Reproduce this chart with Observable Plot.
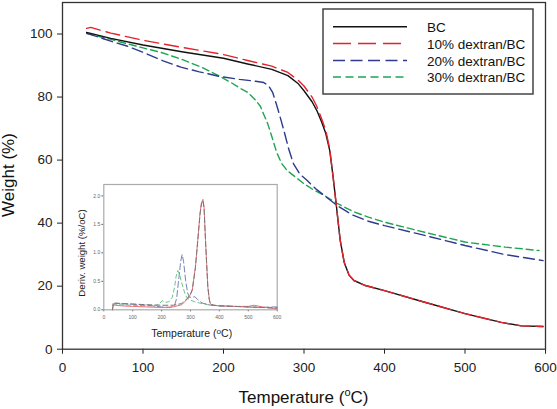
<!DOCTYPE html>
<html><head><meta charset="utf-8">
<script src="https://cdn.jsdelivr.net/npm/d3@7"></script>
<script src="https://cdn.jsdelivr.net/npm/@observablehq/plot@0.6"></script>
<style>
body{margin:0;background:#fff}
#c{position:relative;width:557px;height:409px}
#c svg{position:absolute;left:0;top:0}
</style>
</head><body><div id="c"></div>
<script>
// ---------- Main TGA curves (Temperature °C -> Weight %) ----------
const seriesNames = ["BC", "10% dextran/BC", "20% dextran/BC", "30% dextran/BC"];

const bcT = [30, 60, 100, 150, 200, 230, 260, 280, 293, 300, 310, 316, 322, 327, 332, 336, 340, 345, 350, 356, 362, 375, 400, 450, 500, 545, 570, 597];
const bcW = [100.5, 98.6, 96.5, 94.3, 92.3, 90.5, 88.8, 86.8, 84.2, 82, 78.5, 75.7, 72, 68.5, 63, 55, 46, 34.5, 27.5, 23.5, 21.8, 20.3, 18.6, 14.9, 11.3, 8.5, 7.4, 7.2];

const d10T = [30, 35, 60, 100, 150, 200, 230, 260, 280, 293, 300, 310, 316, 322, 327, 332, 336, 340, 345, 350, 356, 362, 375, 400, 450, 500, 545, 570, 597];
const d10W = [101.8, 102.1, 100.3, 98.0, 95.7, 93.5, 91.6, 89.8, 87.8, 85.3, 83.5, 80, 77, 73, 69.5, 63.5, 55, 46, 34.5, 27.5, 23.5, 21.8, 20.3, 18.6, 14.9, 11.3, 8.5, 7.4, 7.2];

const d20T = [30, 45, 64, 80, 100, 125, 147, 170, 196, 220, 240, 250, 256, 261, 266, 270, 275, 281, 287, 295, 304, 315, 325, 341, 360, 380, 400, 450, 500, 550, 597];
const d20W = [100.2, 99, 97.4, 96.2, 94.2, 91.5, 89.5, 88.0, 86.5, 85.6, 85.0, 84.6, 83.6, 81.5, 77.5, 74, 69.4, 63.5, 58.8, 55.5, 53.5, 50.8, 48.8, 45.6, 42.6, 40.6, 39.2, 36.1, 32.9, 30, 28.1];

const d30T = [30, 60, 100, 122, 150, 175, 196, 210, 222, 230, 240, 246, 250, 255, 260, 266, 272, 279, 290, 300, 312, 325, 341, 360, 380, 400, 450, 500, 550, 592];
const d30W = [100.2, 98.3, 95.6, 94.2, 91.8, 89.2, 86.5, 84.5, 82.6, 81.5, 79, 77, 74.5, 71.5, 67.5, 62.5, 59, 56.7, 54.5, 52.5, 50.5, 48.8, 46.3, 43.8, 41.9, 40.3, 37.1, 34, 32.4, 31.3];

const xTicks = [0, 100, 200, 300, 400, 500, 600];
const yTicks = [0, 20, 40, 60, 80, 100];

// ---------- Inset DTG curves (Temperature °C -> Deriv. weight %/°C) ----------
const iBcT = [30, 33, 40, 60, 100, 150, 200, 240, 270, 289, 300, 306, 317, 325, 333, 338, 343, 347, 352, 356, 360, 365, 369, 380, 400, 450, 500, 550, 600];
const iBcD = [0, 0.11, 0.12, 0.11, 0.1, 0.09, 0.08, 0.08, 0.11, 0.2, 0.28, 0.35, 0.74, 1.2, 1.68, 1.86, 1.92, 1.78, 1.2, 0.8, 0.4, 0.18, 0.1, 0.08, 0.07, 0.06, 0.05, 0.04, 0.03];

const i10T = [30, 33, 40, 60, 100, 150, 200, 240, 270, 289, 300, 306, 317, 325, 333, 338, 343, 347, 352, 356, 360, 365, 369, 380, 400, 450, 500, 520, 550, 580, 600];
const i10D = [0, 0.09, 0.08, 0.07, 0.06, 0.05, 0.04, 0.05, 0.09, 0.19, 0.27, 0.34, 0.75, 1.22, 1.7, 1.88, 1.94, 1.8, 1.22, 0.8, 0.4, 0.18, 0.1, 0.08, 0.07, 0.06, 0.06, 0.08, 0.05, 0.03, 0.01];

const i20T = [30, 40, 100, 150, 200, 230, 245, 252, 260, 266, 271, 276, 283, 290, 296, 305, 315, 325, 340, 370, 400, 450, 500, 550, 575, 600];
const i20D = [0.1, 0.11, 0.1, 0.08, 0.05, 0.04, 0.08, 0.2, 0.57, 0.85, 0.97, 0.85, 0.52, 0.3, 0.22, 0.22, 0.23, 0.18, 0.12, 0.08, 0.07, 0.06, 0.05, 0.04, 0.05, 0.05];

const i30T = [30, 40, 100, 150, 180, 195, 202, 210, 225, 237, 245, 250, 256, 262, 268, 275, 283, 290, 300, 315, 330, 360, 400, 450, 500, 550, 600];
const i30D = [0.08, 0.09, 0.08, 0.07, 0.07, 0.12, 0.16, 0.13, 0.14, 0.22, 0.4, 0.58, 0.69, 0.62, 0.5, 0.38, 0.25, 0.2, 0.17, 0.14, 0.12, 0.09, 0.07, 0.06, 0.05, 0.04, 0.03];

const iXTicks = [0, 100, 200, 300, 400, 500, 600];
const iYTicks = [0, 0.5, 1.0, 1.5, 2.0];

// ---------- helpers ----------
const rows = (T, V) => T.map((t, i) => ({t, v: V[i]}));
const FONT = "'Liberation Sans', Arial, Helvetica, sans-serif";
const colors = ["#111111", "#e3232c", "#2e3a8e", "#1ea551"];
const dashes = [null, "14,6", "11,5", "7,4"];
const mainData = [rows(bcT, bcW), rows(d10T, d10W), rows(d20T, d20W), rows(d30T, d30W)];

const main = Plot.plot({
  width: 557, height: 409,
  marginLeft: 62, marginRight: 12, marginTop: 2, marginBottom: 60.3,
  style: {fontFamily: FONT, fontSize: "13.5px", color: "#222", background: "transparent"},
  x: {domain: [0, 600], ticks: xTicks, tickSize: 5, tickPadding: 8, label: null, tickFormat: d => d},
  y: {domain: [0, 110], ticks: yTicks, tickSize: 5, tickPadding: 5, label: null, tickFormat: d => d},
  marks: [
    Plot.frame({stroke: "#333", strokeWidth: 1.3}),
    ...[3, 2, 0, 1].map(k => Plot.line(mainData[k], {
      x: "t", y: "v", stroke: colors[k], strokeWidth: 1.4,
      strokeDasharray: dashes[k] || undefined
    }))
  ]
});

const inData = [rows(iBcT, iBcD), rows(i10T, i10D), rows(i20T, i20D), rows(i30T, i30D)];
const inColors = ["#777777", "#f07078", "#7a82b8", "#6cc48a"];
const inDash = ["5,3", null, "6,3", "4,3"];

const inset = Plot.plot({
  width: 557, height: 409,
  marginLeft: 103.3, marginRight: 280.3, marginTop: 184, marginBottom: 99.7,
  style: {fontFamily: FONT, fontSize: "5px", color: "#666", background: "transparent"},
  x: {domain: [0, 600], ticks: iXTicks, tickSize: 2, tickPadding: 4, label: null, tickFormat: d => d},
  y: {domain: [0, 2.2], ticks: iYTicks, tickSize: 2, tickPadding: 1.5, label: null, tickFormat: d3.format(".1f")},
  marks: [
    Plot.frame({stroke: "#aaa", strokeWidth: 1.2, fill: "white"}),
    ...[3, 2, 1, 0].map(k => Plot.line(inData[k], {
      x: "t", y: "v", stroke: inColors[k], strokeWidth: 1,
      strokeDasharray: inDash[k] || undefined
    }))
  ]
});

const c = document.getElementById("c");
c.appendChild(main);
c.appendChild(inset);

// ---------- Main axis titles ----------
const ms = d3.select(main);
const xt = ms.append("text").attr("x", 303.5).attr("y", 403).attr("text-anchor", "middle")
  .attr("fill", "#111").style("font-family", FONT).style("font-size", "17px");
xt.append("tspan").text("Temperature (");
xt.append("tspan").attr("dy", -7).style("font-size", "11px").text("o");
xt.append("tspan").attr("dy", 7).text("C)");

ms.append("text").attr("transform", "translate(14,175) rotate(-90)").attr("text-anchor", "middle")
  .attr("fill", "#111").style("font-family", FONT).style("font-size", "17px").text("Weight (%)");

// ---------- Legend ----------
const lg = ms.append("g");
lg.append("rect").attr("x", 323).attr("y", 9).attr("width", 210).attr("height", 85)
  .attr("fill", "white").attr("stroke", "#444").attr("stroke-width", 1.5);
const rowY = [26.7, 43.5, 60.5, 77];
seriesNames.forEach((name, k) => {
  lg.append("line").attr("x1", 333).attr("x2", 407).attr("y1", rowY[k]).attr("y2", rowY[k])
    .attr("stroke", colors[k]).attr("stroke-width", 1.4)
    .attr("stroke-dasharray", k === 1 ? "18,7" : k === 2 ? "12,5.5" : k === 3 ? "8,4.5" : null);
  lg.append("text").attr("x", 427).attr("y", rowY[k] + 5).attr("fill", "#111")
    .attr("text-anchor", "start")
    .style("font-family", FONT).style("font-size", "13.5px").text(name);
});

// ---------- Inset axis titles ----------
const is = d3.select(inset);
const ixt = is.append("text").attr("x", 191.7).attr("y", 336.5).attr("text-anchor", "middle")
  .attr("fill", "#222").style("font-family", FONT).style("font-size", "10.5px");
ixt.append("tspan").text("Temperature (");
ixt.append("tspan").attr("dy", -3).style("font-size", "8px").text("o");
ixt.append("tspan").attr("dy", 3).text("C)");

is.append("text").attr("transform", "translate(84.5,253) rotate(-90)").attr("text-anchor", "middle")
  .attr("fill", "#222").style("font-family", FONT).style("font-size", "9.6px").text("Deriv. weight (%/oC)");
</script></body></html>
